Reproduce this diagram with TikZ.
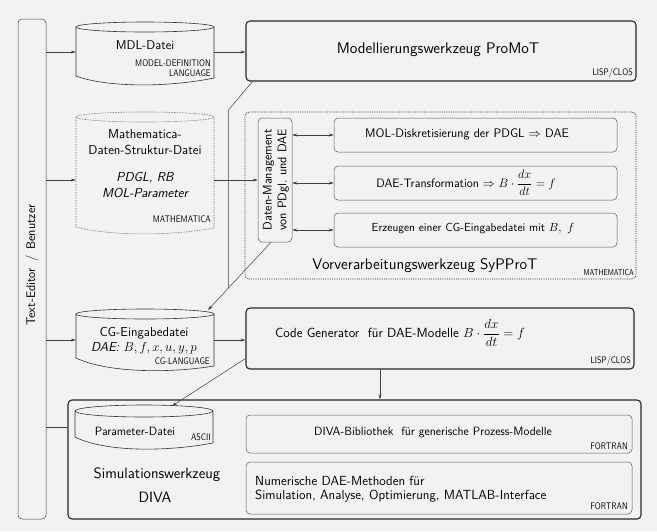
\RequirePackage{fix-cm}
\documentclass[tikz,border=0pt]{standalone}
\usepackage{graphicx}
\usetikzlibrary{arrows.meta,calc}
\newcommand{\fs}[1]{\fontsize{#1}{1.25\dimexpr #1pt\relax}\selectfont}
\newcommand{\lab}[1]{\scalebox{0.85}[1]{\fs{9.5}#1}}
\begin{document}
\begin{tikzpicture}[x=1pt,y=-1pt,
  every node/.style={font=\sffamily, inner sep=0pt},
  thickbox/.style={draw=black!85, line width=1.1pt, rounded corners=4pt},
  thinbox/.style={draw=black!65, line width=0.5pt, rounded corners=4pt},
  dotbox/.style={draw=black!80, line width=0.8pt, densely dotted, rounded corners=4pt},
  cylline/.style={draw=black!80, line width=0.6pt},
  cyldot/.style={draw=black!70, line width=0.6pt, densely dotted},
  conn/.style={draw=black!75, line width=0.5pt},
  arr/.style={conn, -{Stealth[length=5pt,width=3pt]}},
  darr/.style={conn, {Stealth[length=5pt,width=3pt]}-{Stealth[length=5pt,width=3pt]}}]
\fill[black!5] (0,0) rectangle (657,531);
\useasboundingbox (0,0) rectangle (657,531);

% main boxes
\node[thinbox, draw=black!75, minimum width=28pt, minimum height=500pt] (editor) at (32,269) {};
\node[rotate=90, font=\sffamily\fs{12.5}] (edtext) at (32,265) {Text-Editor\ \,/\ \,Benutzer};

\node[thickbox, minimum width=390pt, minimum height=60pt] (promot) at (441,51) {};
\node[font=\sffamily\fs{15.4}] (promott) at (438,50) {Modellierungswerkzeug ProMoT};
\node[anchor=south east] (promotl) at (633,78) {\lab{LISP/CLOS}};

\node[dotbox, minimum width=391pt, minimum height=167pt] (syp) at (440.5,195.5) {};
\node[font=\sffamily\fs{15.4}] (sypt) at (425,266) {Vorverarbeitungswerkzeug SyPProT};
\node[anchor=south east] (sypl) at (634,276) {\scalebox{0.8}[1]{\fs{8.5}MATHEMATICA}};

\node[thinbox, minimum width=34pt, minimum height=124pt] (dm) at (275,180) {};
\node[rotate=90, align=center, font=\sffamily\fs{12.5}] (dmt) at (276,180) {Daten-Management\\[-1pt]von PDgl.\ und DAE};

\node[thinbox, minimum width=283pt, minimum height=34pt] (mol) at (475.5,135) {};
\node[font=\sffamily\fs{12.4}] (molt) at (467,134) {MOL-Diskretisierung der PDGL $\Rightarrow$ DAE};
\node[thinbox, minimum width=283pt, minimum height=34pt] (dae) at (475.5,183) {};
\node[anchor=base, font=\sffamily\fs{12.2}] (daet) at (466,187) {DAE-Transformation $\Rightarrow B\cdot\displaystyle\frac{dx}{dt}=f$};
\node[thinbox, minimum width=283pt, minimum height=34pt] (erz) at (475.5,230) {};
\node[font=\sffamily\fs{11.7}] (erzt) at (473,229) {Erzeugen einer CG-Eingabedatei mit $B,\ f$};

\node[thickbox, minimum width=388pt, minimum height=61pt] (codegen) at (440,338.5) {};
\node[anchor=base, font=\sffamily\fs{13.2}] (cgt) at (400,337) {Code Generator\ \ für DAE-Modelle $B\cdot\displaystyle\frac{dx}{dt}=f$};
\node[anchor=south east] (cgl) at (631,366) {\lab{LISP/CLOS}};

\node[thickbox, minimum width=573pt, minimum height=119pt] (diva) at (354.5,459.5) {};
\node[thinbox, minimum width=386pt, minimum height=38pt] (bib) at (439,434) {};
\node[font=\sffamily\fs{12}] (bibt) at (433,432) {DIVA-Bibliothek\ \ für generische Prozess-Modelle};
\node[anchor=south east] (bibl) at (628,450) {\lab{FORTRAN}};
\node[thinbox, minimum width=386pt, minimum height=52pt] (num) at (439,488) {};
\node[anchor=west, align=left, font=\sffamily\fs{13.2}, inner sep=0pt] (numt) at (255,489) {Numerische DAE-Methoden für\\[-2pt]Simulation, Analyse, Optimierung, MATLAB-Interface};
\node[anchor=south east] (numl) at (628,510) {\lab{FORTRAN}};
\node[font=\sffamily\fs{15}] (simt) at (157,475) {Simulationswerkzeug};
\node[font=\sffamily\fs{15}] (divat) at (155,497) {DIVA};

% cylinders: body nodes
\node[minimum width=138pt, minimum height=60pt] (mdl) at (145,52) {};
\node[minimum width=138pt, minimum height=121pt] (math) at (145,172.5) {};
\node[minimum width=138pt, minimum height=60pt] (cg) at (145,340) {};
\node[minimum width=138pt, minimum height=45pt] (param) at (144,427.5) {};

\draw[cylline] (76,27) -- (76,76) .. controls (105,87) and (165,88) .. (214,78) -- (214,27);
\draw[cylline] (145,27) ellipse [x radius=69pt, y radius=5pt];
\node[font=\sffamily\fs{12.7}] (mdlt) at (145,45) {MDL-Datei};
\node[anchor=north east, align=right] (mdll) at (211,59) {\lab{MODEL-DEFINITION}\\[-2pt]\lab{LANGUAGE}};

\draw[cyldot] (76,117) -- (76,227) .. controls (105,235) and (165,237) .. (214,228) -- (214,117);
\draw[cyldot] (145,117) ellipse [x radius=69pt, y radius=5pt];
\node[align=center, font=\sffamily\fs{13}] (matht) at (145,142) {Mathematica-\\Daten-Struktur-Datei};
\node[align=center, font=\sffamily\slshape\fs{13}] (mathi) at (145,185) {PDGL, RB\\MOL-Parameter};
\node[anchor=east] (mathl) at (211,219) {\lab{MATHEMATICA}};

\draw[cylline] (76,314) -- (76,358) .. controls (105,372) and (165,374) .. (214,366) -- (214,314);
\draw[cylline] (145,314) ellipse [x radius=69pt, y radius=5pt];
\node[font=\sffamily\fs{13}] (cgt1) at (144,333) {CG-Eingabedatei};
\node[font=\sffamily\fs{13}] (cgt2) at (144,348) {\textsl{DAE:} $B,f,x,u,y,p$};
\node[anchor=east] (cgll) at (210,361) {\lab{CG-LANGUAGE}};

\draw[cylline] (75,411) -- (75,437) .. controls (105,452) and (165,452) .. (213,443) -- (213,411);
\draw[cylline] (144,411) ellipse [x radius=69pt, y radius=6pt];
\node[font=\sffamily\fs{12}] (part) at (135,431) {Parameter-Datei};
\node[anchor=east] (parl) at (211,437) {\lab{ASCII}};

% connectors
\draw[arr] (editor.east |- mdl.west) -- (mdl.west);
\draw[arr] (mdl.east) -- (promot.west |- mdl.east);
\draw[arr] (editor.east |- dm.west) -- (math.west |- dm.west);
\draw[arr] (math.east |- dm.west) -- (dm.west);
\draw[arr] (editor.east |- cg.west) -- (cg.west);
\draw[arr] (cg.east) -- (codegen.west |- cg.east);
\draw[conn] (editor.east |- param.west) -- (diva.west |- param.west);

\draw[darr] (dm.east |- mol.west) -- (mol.west);
\draw[darr] (dm.east |- dae.west) -- (dae.west);
\draw[darr] (dm.east |- erz.west) -- (erz.west);

\coordinate (dmb) at ([xshift=-4pt]dm.south);
\coordinate (cgtop) at (208,310);
\coordinate (j2) at ($(dmb)!0.672!(cgtop)$);
\coordinate (j1) at ($(j2)+(0,-178)$);
\draw[conn] ([xshift=7pt]promot.south west) -- (j1) -- (j2);
\draw[arr] (dmb) -- (cgtop);

\coordinate (ptop) at (172,406);
\draw[arr] ([yshift=11pt]codegen.south west) -- (ptop);
\draw[arr] ([xshift=-60pt]codegen.south) -- ([xshift=-60pt]codegen.south |- diva.north);
\end{tikzpicture}
\end{document}
